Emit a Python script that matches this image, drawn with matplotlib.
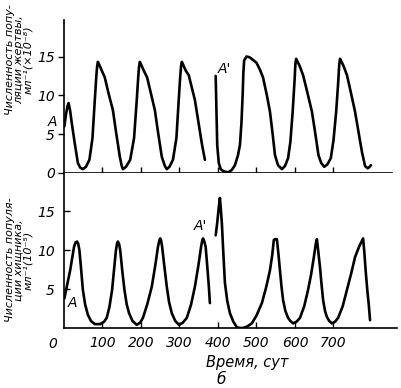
import matplotlib
matplotlib.use("Agg")
import matplotlib.pyplot as plt

plt.rcParams['font.family'] = ['DejaVu Sans']
plt.rcParams['font.style'] = 'italic'

# prey (top), first run up to the break
prey_t1 = [1, 5, 9, 12, 16, 20, 28, 36, 42, 49, 57, 66, 74, 80, 84, 86, 88, 91,
           98, 106, 116, 127, 136, 145, 150, 153, 161, 172, 182, 189, 193, 195, 197, 200,
           207, 216, 226, 236, 245, 254, 262, 267, 274, 283, 292, 298, 302, 304, 306, 309,
           316, 324, 333, 340, 350, 358, 366]
prey_v1 = [6.0, 7.5, 8.6, 9.0, 8.0, 6.5, 3.8, 1.3, 0.7, 0.5, 0.8, 1.7, 4.5, 9.4, 12.5, 13.7, 14.3, 14.0,
           13.2, 12.3, 10.2, 8.1, 5.0, 2.1, 0.9, 0.5, 0.8, 1.7, 4.5, 9.4, 12.5, 13.7, 14.3, 14.0,
           13.2, 12.3, 10.2, 8.1, 5.0, 2.1, 0.9, 0.5, 0.8, 1.7, 4.5, 9.4, 12.5, 13.7, 14.3, 14.0,
           13.2, 12.6, 10.8, 9.4, 6.3, 3.8, 1.7]
# prey, second run (after A')
prey_t2 = [394, 396, 398, 402, 407, 415, 427, 436, 444, 452, 457, 461, 464, 466, 468,
           474, 482, 490, 500, 509, 517, 527, 535, 542, 548, 556, 566, 574, 582, 588,
           594, 599, 601, 603, 606, 612, 621, 632, 644, 653, 661, 668, 676, 684, 693, 700, 707,
           712, 715, 717, 720, 726, 735, 745, 756, 766, 774, 782, 789, 794, 797]
prey_v2 = [12.5, 8.0, 3.6, 1.3, 0.5, 0.2, 0.1, 0.4, 1.0, 2.3, 3.6, 6.5, 10.0, 13.0, 14.5,
           15.0, 14.9, 14.6, 14.2, 13.3, 12.3, 10.0, 7.9, 5.0, 2.3, 1.0, 0.5, 0.9, 1.9, 4.0,
           7.9, 12.0, 14.0, 14.7, 14.4, 13.8, 12.6, 10.4, 7.9, 5.0, 2.3, 1.3, 0.8, 1.1, 1.9, 4.2, 7.9,
           11.5, 14.0, 14.7, 14.4, 13.8, 12.6, 10.4, 7.9, 5.0, 2.7, 0.9, 0.6, 0.8, 1.0]

# predator (bottom), first run
pred_t1 = [1, 8, 16, 22, 26, 30, 34, 37, 40, 44, 49, 55, 62, 70, 80, 94, 104, 111, 118,
           125, 130, 135, 138, 140, 143, 146, 151, 157, 163, 169, 178, 189, 198, 205,
           216, 228, 237, 244, 248, 250, 252, 255, 260, 267, 273, 280, 289, 299, 309,
           319, 330, 340, 349, 356, 359, 361, 364, 368, 372, 376, 379]
pred_v1 = [3.8, 5.5, 7.4, 9.2, 10.4, 11.0, 11.1, 10.8, 10.0, 7.8, 4.9, 3.0, 1.7, 0.9, 0.5,
           0.5, 0.8, 1.3, 2.7, 4.9, 7.5, 10.0, 10.9, 11.1, 10.8, 10.0, 7.5, 4.9, 3.0, 1.9,
           0.9, 0.4, 0.7, 1.3, 3.0, 5.3, 8.0, 10.4, 11.3, 11.5, 11.3, 10.4, 8.2, 5.3, 3.3,
           1.9, 0.9, 0.4, 0.7, 1.3, 3.0, 5.3, 8.0, 10.4, 11.2, 11.5, 11.2, 10.4, 8.0, 5.5, 3.2]
# predator, second run
pred_t2 = [394, 398, 402, 405, 407, 410, 414, 418, 424, 431, 440, 449, 457, 465, 476, 488,
           500, 514, 525, 535, 541, 545, 548, 553, 557, 561, 565, 569, 575, 582, 588, 595,
           604, 613, 624, 634, 642, 649, 654, 657, 661, 665, 669, 673, 678, 683, 689, 696,
           704, 712, 724, 735, 746, 756, 767, 777, 780, 784, 788, 792, 795]
pred_v2 = [11.9, 13.5, 15.5, 16.7, 15.5, 13.5, 9.5, 5.8, 3.5, 1.9, 0.8, 0.1, 0.0, 0.0, 0.2,
           0.6, 1.6, 3.2, 5.2, 7.4, 9.4, 11.3, 11.4, 11.4, 9.5, 7.4, 5.3, 3.6, 2.2, 1.3, 0.9,
           0.6, 0.8, 1.3, 2.8, 4.9, 6.9, 9.1, 10.8, 11.4, 9.6, 7.8, 5.6, 3.6, 2.2, 1.4, 0.9,
           0.6, 0.8, 1.3, 2.8, 4.9, 7.0, 9.1, 10.5, 11.5, 9.8, 7.1, 4.8, 2.8, 1.0]

xticks = [100, 200, 300, 400, 500, 600, 700]
yticks_top = [0, 5, 10, 15]
yticks_bottom = [5, 10, 15]

fig = plt.figure(figsize=(4.01, 3.88), dpi=100)
ax1 = fig.add_axes([64/401, (388-173)/388, 328/401, 153/388])
ax2 = fig.add_axes([64/401, (388-328)/388, 333/401, 155/388])

lw = 1.9
ax1.plot(prey_t1, prey_v1, color='black', lw=lw, solid_joinstyle='round', solid_capstyle='round')
ax1.plot(prey_t2, prey_v2, color='black', lw=lw, solid_joinstyle='round', solid_capstyle='round')
ax2.plot(pred_t1, pred_v1, color='black', lw=lw, solid_joinstyle='round', solid_capstyle='round')
ax2.plot(pred_t2, pred_v2, color='black', lw=lw, solid_joinstyle='round', solid_capstyle='round')

ax1.set_xlim(0, 852)
ax1.set_ylim(0, 19.7)
ax2.set_xlim(0, 865)
ax2.set_ylim(0, 19.9)

for ax in (ax1, ax2):
    for s in ('top', 'right'):
        ax.spines[s].set_visible(False)
    for s in ('left', 'bottom'):
        ax.spines[s].set_linewidth(1.2)
    ax.set_xticks(xticks)
    ax.tick_params(axis='x', direction='in', length=4.5, width=1.0)
    ax.tick_params(axis='y', width=1.0, labelsize=10)

ax1.set_xticklabels([])
ax1.set_yticks(yticks_top)
ax1.tick_params(axis='y', direction='out', length=4.5, pad=2)

ax2.set_yticks(yticks_bottom)
ax2.tick_params(axis='y', direction='in', length=4.5, pad=6.5)
ax2.set_xticklabels([str(v) for v in xticks])
ax2.tick_params(axis='x', labelsize=10, pad=6)
ax2.text(-28, -2.0, '0', fontsize=10, ha='center', va='center', clip_on=False)

# curve labels
ax1.text(-31, 6.6, 'A', fontsize=10, ha='center', va='center', clip_on=False)
ax1.text(418, 13.4, "A'", fontsize=10, ha='center', va='center')
ax2.text(23, 3.2, 'A', fontsize=10, ha='center', va='center')
ax2.text(355, 13.1, "A'", fontsize=10, ha='center', va='center')

# axis titles
lab = ['Liberation Sans Narrow', 'DejaVu Sans']
fig.text(19/401, 1 - 60/388, 'Численность попу-\nляции жертвы,\nмл⁻¹(×10⁻⁸)',
         rotation=90, fontsize=8, family=lab, ha='center', va='center',
         multialignment='center', linespacing=0.92)
fig.text(19/401, 1 - 260/388, 'Численность популя-\nции хищника,\nмл⁻¹(10⁻⁵)',
         rotation=90, fontsize=8, family=lab, ha='center', va='center',
         multialignment='center', linespacing=0.92)

fig.text(247/401, 1 - 362/388, 'Время, сут', fontsize=10.5, ha='center', va='center')
fig.text(221/401, 1 - 380/388, 'б', fontsize=11, ha='center', va='center')

fig.savefig('out.png', dpi=100)
